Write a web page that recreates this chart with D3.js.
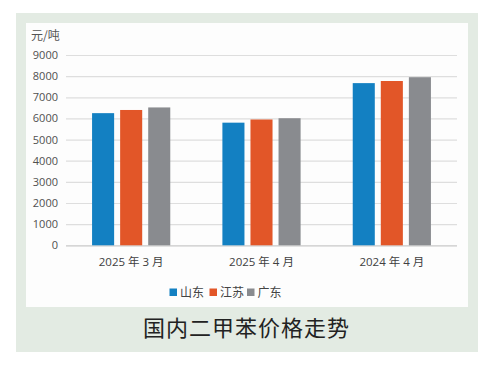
<!DOCTYPE html>
<html><head><meta charset="utf-8">
<script src="https://cdn.jsdelivr.net/npm/d3@7/dist/d3.min.js"></script>
<style>
html,body{margin:0;padding:0;background:#fff;}
svg{display:block;}
</style></head>
<body>
<svg id="c" width="497" height="369"></svg>
<script>
const categories = ["2025 年 3 月", "2025 年 4 月", "2024 年 4 月"];
const seriesNames = ["山东", "江苏", "广东"];
const shandong = [6250, 5800, 7670];
const jiangsu = [6400, 5950, 7770];
const guangdong = [6520, 6010, 7950];
const yTicks = [0, 1000, 2000, 3000, 4000, 5000, 6000, 7000, 8000, 9000];
const colors = ["#1380c2", "#e25628", "#898b8f"];
const unitLabel = "元/吨";
const title = "国内二甲苯价格走势";

const values = [shandong, jiangsu, guangdong];
const svg = d3.select("#c");

// backgrounds
svg.append("rect").attr("x",16).attr("y",13).attr("width",462).attr("height",339).attr("fill","#e3ebe3");
svg.append("rect").attr("x",26).attr("y",23).attr("width",442).attr("height",284).attr("fill","#fdfdfd");

const x0 = d3.scaleBand().domain(categories).range([66,457]).paddingInner(0.4).paddingOuter(0.2);
const x1 = d3.scaleBand().domain(seriesNames).range([0, x0.bandwidth()]).paddingInner(0.214).paddingOuter(0);
const y = d3.scaleLinear().domain([0,9000]).range([245.3,55]);

// gridlines
const yAxis = d3.axisLeft(y).tickValues(yTicks).tickSize(-(457-66)).tickFormat(d=>d);
const g = svg.append("g").attr("transform","translate(66,0)").call(yAxis);
g.select(".domain").remove();
g.selectAll(".tick line").attr("stroke", d=> d===0 ? "#c8c8c8" : "#dedede").attr("stroke-width",1.2);
g.selectAll(".tick text").attr("x",-8).attr("fill","#505050")
  .style("font-family","'Open Sans','DejaVu Sans',sans-serif").style("font-size","11px");

// bars
const groups = svg.append("g").selectAll("g").data(categories).join("g")
  .attr("transform", d=>`translate(${x0(d)},0)`);
groups.selectAll("rect").data((d,i)=>seriesNames.map((s,j)=>({s, v: values[j][i], j})))
  .join("rect")
  .attr("x", d=>x1(d.s)).attr("width", x1.bandwidth())
  .attr("y", d=>y(d.v)).attr("height", d=>y(0)-y(d.v))
  .attr("fill", d=>colors[d.j]);

// x labels
const xAxis = d3.axisBottom(x0).tickSize(0);
const xg = svg.append("g").attr("transform","translate(0,245.3)").call(xAxis);
xg.select(".domain").remove();
xg.selectAll(".tick text").attr("dy",0).attr("y",20.5).attr("fill","#404040")
  .style("font-family","'Open Sans','Noto Sans CJK SC',sans-serif").style("font-size","11.5px");

// unit
svg.append("text").attr("x",31).attr("y",40).text(unitLabel).attr("fill","#555")
  .style("font-family","'Noto Sans CJK SC',sans-serif").style("font-size","12px");

// legend
const legendX = [169.5, 209.5, 247];
const lg = svg.append("g").selectAll("g").data(seriesNames).join("g")
  .attr("transform",(d,i)=>`translate(${legendX[i]},0)`);
lg.append("rect").attr("x",0).attr("y",288.5).attr("width",7.5).attr("height",7.5).attr("fill",(d,i)=>colors[i]);
lg.append("text").attr("x",10.5).attr("y",297).text(d=>d).attr("fill","#444")
  .style("font-family","'Noto Sans CJK SC',sans-serif").style("font-size","12px");

// title
svg.append("text").attr("x",246.5).attr("y",336).attr("text-anchor","middle").text(title)
  .attr("fill","#222").style("font-family","'Noto Sans CJK SC',sans-serif").style("font-size","22px")
  .style("letter-spacing","1px");
</script>
</body></html>
